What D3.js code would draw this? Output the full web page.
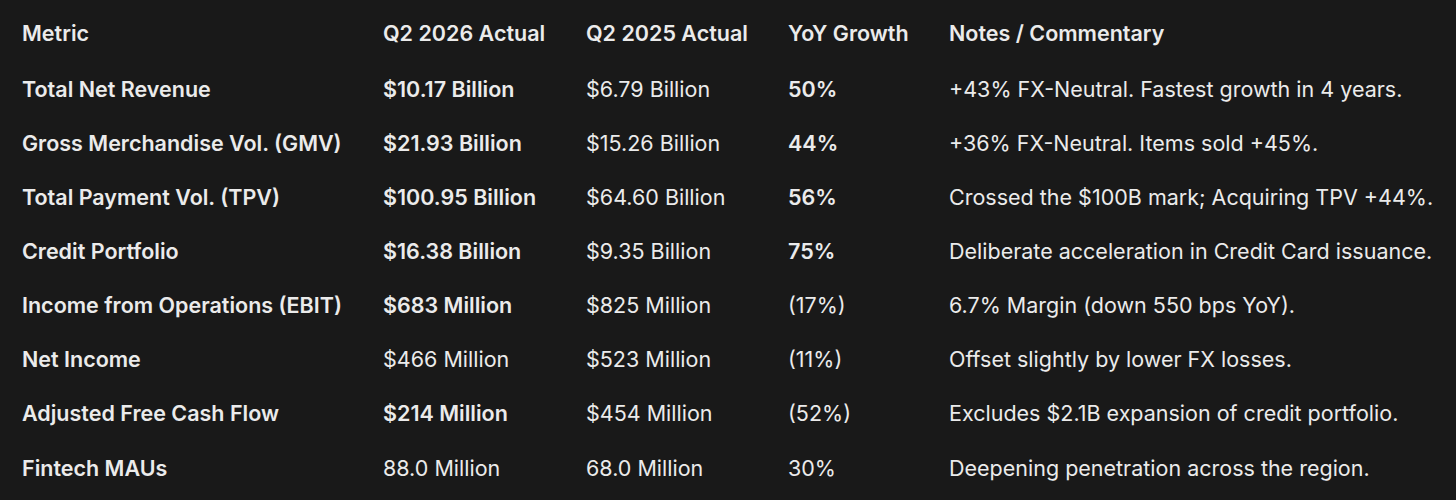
<!DOCTYPE html>
<html>
<head>
<meta charset="utf-8">
<script src="https://cdn.jsdelivr.net/npm/d3@7"></script>
<style>
  html, body { margin: 0; padding: 0; background: #191919; }
  svg { display: block; }
</style>
</head>
<body>
<script>
// TABLE DATA
var headers = ["Metric", "Q2 2026 Actual", "Q2 2025 Actual", "YoY Growth", "Notes / Commentary"];

var metrics = [
  "Total Net Revenue",
  "Gross Merchandise Vol. (GMV)",
  "Total Payment Vol. (TPV)",
  "Credit Portfolio",
  "Income from Operations (EBIT)",
  "Net Income",
  "Adjusted Free Cash Flow",
  "Fintech MAUs"
];

var q2_2026 = ["$10.17 Billion", "$21.93 Billion", "$100.95 Billion", "$16.38 Billion",
  "$683 Million", "$466 Million", "$214 Million", "88.0 Million"];

var q2_2025 = ["$6.79 Billion", "$15.26 Billion", "$64.60 Billion", "$9.35 Billion",
  "$825 Million", "$523 Million", "$454 Million", "68.0 Million"];

var yoy = ["50%", "44%", "56%", "75%", "(17%)", "(11%)", "(52%)", "30%"];

var notes = [
  "+43% FX-Neutral. Fastest growth in 4 years.",
  "+36% FX-Neutral. Items sold +45%.",
  "Crossed the $100B mark; Acquiring TPV +44%.",
  "Deliberate acceleration in Credit Card issuance.",
  "6.7% Margin (down 550 bps YoY).",
  "Offset slightly by lower FX losses.",
  "Excludes $2.1B expansion of credit portfolio.",
  "Deepening penetration across the region."
];

// which rows are emphasised in each value column
var bold2026 = [true, true, true, true, true, false, true, false];
var boldYoy  = [true, true, true, true, false, false, false, false];

//CANVAS
var width = 1456, height = 500;
var colX = [22, 383, 586, 788, 949];
var fontSize = 21.5;

var svg = d3.select("body").append("svg")
  .attr("width", width)
  .attr("height", height);

svg.append("rect").attr("width", width).attr("height", height).attr("fill", "#191919");

var x = d3.scaleOrdinal().domain(d3.range(headers.length)).range(colX);

var yData = d3.scalePoint()
  .domain(d3.range(metrics.length))
  .range([96.5, 96.5 + 54.15 * (metrics.length - 1)]);

// header
svg.append("g").selectAll("text")
  .data(headers)
  .enter().append("text")
    .attr("x", function(d, i) { return x(i); })
    .attr("y", 41)
    .attr("fill", "#ebebeb")
    .attr("font-family", "Inter, 'Noto Sans', sans-serif")
    .attr("font-size", fontSize)
    .attr("font-weight", 600)
    .text(function(d) { return d; });

// cells
var cells = [];
metrics.forEach(function(m, r) {
  cells.push({r: r, c: 0, t: m, b: true});
  cells.push({r: r, c: 1, t: q2_2026[r], b: bold2026[r]});
  cells.push({r: r, c: 2, t: q2_2025[r], b: false});
  cells.push({r: r, c: 3, t: yoy[r], b: boldYoy[r]});
  cells.push({r: r, c: 4, t: notes[r], b: false});
});

svg.append("g").selectAll("text")
  .data(cells)
  .enter().append("text")
    .attr("x", function(d) { return x(d.c); })
    .attr("y", function(d) { return yData(d.r); })
    .attr("fill", "#ebebeb")
    .attr("font-family", "Inter, 'Noto Sans', sans-serif")
    .attr("font-size", fontSize)
    .attr("font-weight", function(d) { return d.b ? 600 : 400; })
    .text(function(d) { return d.t; });
</script>
</body>
</html>
